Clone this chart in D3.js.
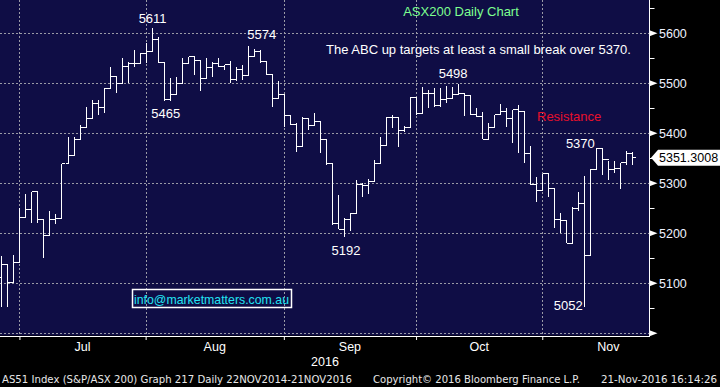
<!DOCTYPE html>
<html>
<head>
<meta charset="utf-8">
<script src="https://cdn.jsdelivr.net/npm/d3@7"></script>
<style>
  body { margin: 0; background: #000; }
  svg { display: block; }
</style>
</head>
<body>
<div id="chart-area"></div>
<script>

// AS51 daily bars, 27 Jun 2016 .. 21 Nov 2016 (one value per trading day)
let open = [5112,5137,5102,5142,5232,5247,5283,5228,5196,5228,5230,5339,5355,5388,5412,5430,5459,5452,5490,5513,
            5499,5533,5539,5540,5560,5563,5588,5541,5467,5477,5499,5539,5553,5545,5509,5532,5540,5533,5537,5507,
            5528,5515,5553,5563,5543,5517,5470,5478,5435,5417,5373,5430,5415,5423,5387,5340,5220,5208,5228,5240,
            5297,5295,5303,5340,5375,5432,5432,5405,5412,5472,5439,5479,5480,5455,5468,5469,5477,5480,5475,5437,
            5433,5388,5412,5437,5443,5430,5447,5443,5360,5297,5285,5319,5290,5228,5225,5180,5250,5259,5156,5328,
            5370,5347,5328,5330,5341,5360];
let high = [5155,5137,5157,5250,5279,5283,5283,5228,5245,5238,5339,5393,5393,5417,5453,5467,5467,5490,5533,5513,
            5550,5543,5567,5561,5580,5611,5592,5541,5510,5512,5550,5553,5553,5545,5550,5543,5550,5537,5545,5533,
            5537,5574,5568,5567,5543,5517,5505,5478,5435,5421,5432,5430,5440,5423,5387,5340,5277,5230,5241,5307,
            5301,5308,5347,5393,5433,5437,5432,5415,5473,5472,5493,5487,5490,5490,5495,5492,5498,5480,5475,5450,
            5443,5420,5437,5459,5450,5447,5457,5443,5375,5313,5319,5319,5290,5240,5225,5252,5283,5315,5328,5370,
            5370,5345,5345,5341,5365,5363];
let low  = [5052,5052,5102,5142,5232,5220,5221,5150,5196,5218,5230,5339,5355,5388,5412,5430,5437,5441,5490,5480,
            5499,5500,5533,5540,5540,5563,5541,5465,5465,5477,5499,5539,5517,5485,5509,5512,5533,5527,5501,5505,
            5507,5515,5553,5540,5517,5453,5470,5413,5417,5363,5373,5407,5415,5360,5337,5217,5208,5192,5205,5240,
            5273,5278,5303,5340,5375,5410,5373,5403,5412,5437,5439,5450,5453,5453,5460,5468,5477,5435,5437,5432,
            5388,5388,5410,5437,5412,5380,5360,5340,5297,5263,5285,5273,5210,5201,5180,5180,5245,5052,5156,5328,
            5317,5307,5321,5288,5336,5337];
let close = [5137,5102,5142,5232,5247,5283,5228,5196,5228,5230,5339,5355,5388,5412,5430,5459,5452,5490,5513,5499,
            5533,5539,5540,5560,5563,5588,5541,5467,5477,5499,5539,5553,5545,5509,5532,5540,5533,5537,5507,5528,
            5515,5553,5563,5543,5517,5470,5478,5435,5417,5373,5430,5415,5423,5387,5340,5220,5208,5228,5240,5297,
            5295,5303,5340,5375,5432,5432,5405,5412,5472,5439,5479,5480,5455,5468,5469,5477,5480,5475,5437,5433,
            5388,5412,5437,5443,5430,5447,5443,5360,5297,5285,5319,5290,5228,5225,5180,5250,5259,5156,5328,5370,
            5347,5328,5330,5341,5360,5351.3008];

let yTicks = [5000, 5100, 5200, 5300, 5400, 5500, 5600];
let yMinor = [5050, 5150, 5250, 5350, 5450, 5550, 5650];
let monthNames = ["Jul", "Aug", "Sep", "Oct", "Nov"];

// turning points marked on the chart
let peakIdx  = [25, 27, 41, 57, 76, 99, 97];
let peakText = ["5611", "5465", "5574", "5192", "5498", "5370", "5052"];

let lastPrice = "5351.3008";
let note = "The ABC up targets at least a small break over 5370.";
let title = "ASX200 Daily Chart";
let email = "info@marketmatters.com.au";

let width = 720, height = 387;
let plotRight = 649.5, plotBottom = 336;

// trading days (weekdays) from 27 Jun to end of Nov
let days = d3.utcDay.range(new Date(Date.UTC(2016, 5, 27)), new Date(Date.UTC(2016, 11, 1)))
    .filter(d => d.getUTCDay() % 6 !== 0);

let x = d3.scaleLinear().domain([0, 105]).range([1.4, 632.4]);
let y = d3.scaleLinear().domain([5000, 5600]).range([333.3, 33.3]);

// last trading day of each month -> grid lines / ticks
let monthEnds = [];
days.forEach(function(d, i) {
    let next = days[i + 1];
    if (!next || next.getUTCMonth() !== d.getUTCMonth()) monthEnds.push(i);
});

let svg = d3.select("#chart-area").append("svg")
    .attr("width", width)
    .attr("height", height)
    .style("font-family", "'Liberation Sans', Arial, sans-serif");

svg.append("rect").attr("width", width).attr("height", height).attr("fill", "#000");
svg.append("rect")
    .attr("x", 0).attr("y", 0)
    .attr("width", plotRight).attr("height", plotBottom - 0.5)
    .attr("fill", "#0f0d45");

// grid
let grid = svg.append("g").attr("stroke", "#9a9aa6").attr("stroke-width", 1).attr("stroke-dasharray", "2,2");
grid.selectAll(".hg").data(yTicks).enter().append("line")
    .attr("x1", 0).attr("x2", plotRight)
    .attr("y1", d => Math.round(y(d)) + 0.5).attr("y2", d => Math.round(y(d)) + 0.5);
grid.selectAll(".vg").data(monthEnds.slice(0, 5)).enter().append("line")
    .attr("x1", d => Math.round(x(d)) + 0.5).attr("x2", d => Math.round(x(d)) + 0.5)
    .attr("y1", 0).attr("y2", plotBottom);

// OHLC bars
let tick = 3;
svg.append("g").selectAll("path")
    .data(close.map((c, i) => i))
    .enter().append("path")
    .attr("fill", "none")
    .attr("stroke", "#fff")
    .attr("stroke-width", 1)
    .attr("shape-rendering", "crispEdges")
    .attr("d", function(i) {
        let px = Math.round(x(i)) + 0.5;
        return "M" + px + "," + y(high[i]) + "V" + y(low[i]) +
               "M" + (px - tick) + "," + y(open[i]) + "H" + px +
               "M" + px + "," + y(close[i]) + "H" + (px + tick);
    });

// bottom axis
let xAxis = d3.axisBottom(x)
    .tickValues(monthEnds.slice(0, 5))
    .tickSize(4)
    .tickFormat("");
let xg = svg.append("g")
    .attr("transform", "translate(0," + plotBottom + ")")
    .call(xAxis);
xg.select(".domain").attr("stroke", "#fff").attr("d", "M0,0.5H" + plotRight);
xg.selectAll(".tick line").attr("stroke", "#fff");

// month labels sit between month ends
let bounds = monthEnds.slice(0, 6);
svg.append("g").selectAll("text")
    .data(monthNames)
    .enter().append("text")
    .attr("x", (d, i) => (x(bounds[i]) + x(bounds[i + 1])) / 2)
    .attr("y", 351)
    .attr("text-anchor", "middle")
    .attr("fill", "#fff")
    .style("font-size", "12.5px")
    .text(d => d);

svg.append("text")
    .attr("x", 325).attr("y", 366)
    .attr("text-anchor", "middle")
    .attr("fill", "#fff")
    .style("font-size", "12.5px")
    .text("2016");

// right axis
svg.append("line")
    .attr("x1", plotRight).attr("x2", plotRight)
    .attr("y1", 0).attr("y2", plotBottom + 1)
    .attr("stroke", "#fff");
let ra = svg.append("g");
ra.selectAll(".arrow").data(yTicks).enter().append("path")
    .attr("fill", "#fff")
    .attr("d", d => {
        let yy = y(d);
        return "M" + plotRight + "," + (yy - 3) + "L" + (plotRight + 8) + "," + yy + "L" + plotRight + "," + (yy + 3) + "Z";
    });
ra.selectAll(".minor").data(yMinor).enter().append("line")
    .attr("x1", plotRight).attr("x2", plotRight + 5)
    .attr("y1", d => Math.round(y(d)) + 0.5).attr("y2", d => Math.round(y(d)) + 0.5)
    .attr("stroke", "#fff");
ra.selectAll("text").data(yTicks.slice(1)).enter().append("text")
    .attr("x", 659)
    .attr("y", d => y(d) + 4.5)
    .attr("fill", "#eef2ff")
    .style("font-size", "12.5px")
    .text(d => d);

// last price flag
let ly = y(close[close.length - 1]);
svg.append("path")
    .attr("fill", "#fff")
    .attr("d", "M651," + ly + "L658," + (ly - 8) + "H720V" + (ly + 8) + "H658Z");
svg.append("text")
    .attr("x", 659).attr("y", ly + 4.5)
    .attr("fill", "#000")
    .style("font-size", "12.5px")
    .text(lastPrice);

// annotations
let peakPlace = {
    "5611": [1, -5], "5465": [2, 17], "5574": [14, -7], "5192": [2, 18],
    "5498": [-5, -6], "5370": [-16, 0], "5052": [-16, 3]
};
svg.append("g").selectAll("text")
    .data(peakText)
    .enter().append("text")
    .attr("x", (d, i) => x(peakIdx[i]) + peakPlace[d][0])
    .attr("y", (d, i) => y(+d) + peakPlace[d][1])
    .attr("text-anchor", "middle")
    .attr("fill", "#fff")
    .style("font-size", "13px")
    .text(d => d);

svg.append("text")
    .attr("x", 461).attr("y", 16)
    .attr("text-anchor", "middle")
    .attr("fill", "#7dff90")
    .style("font-size", "13px")
    .text(title);

svg.append("text")
    .attr("x", 326).attr("y", 54)
    .attr("fill", "#fff")
    .style("font-size", "13px")
    .text(note);

svg.append("text")
    .attr("x", 537).attr("y", 121)
    .attr("fill", "#e8102c")
    .style("font-size", "13px")
    .text("Resistance");

svg.append("rect")
    .attr("x", 132.5).attr("y", 289.5)
    .attr("width", 159).attr("height", 18)
    .attr("fill", "none")
    .attr("stroke", "#fff")
    .attr("stroke-width", 1.5);
svg.append("text")
    .attr("x", 134).attr("y", 304)
    .attr("fill", "#22e4f2")
    .attr("textLength", 155)
    .attr("lengthAdjust", "spacingAndGlyphs")
    .style("font-size", "13px")
    .text(email);

// footer
let foot = svg.append("g")
    .attr("fill", "#e8e8e8")
    .style("font-family", "'DejaVu Sans', Verdana, sans-serif")
    .style("font-size", "10.5px");
foot.append("text").attr("x", 2).attr("y", 383)
    .attr("textLength", 350).attr("lengthAdjust", "spacingAndGlyphs")
    .text("AS51 Index (S&P/ASX 200) Graph 217  Daily 22NOV2014-21NOV2016");
foot.append("text").attr("x", 373).attr("y", 383)
    .attr("textLength", 207).attr("lengthAdjust", "spacingAndGlyphs")
    .text("Copyright\u00a9 2016 Bloomberg Finance L.P.");
foot.append("text").attr("x", 601).attr("y", 383)
    .attr("textLength", 116).attr("lengthAdjust", "spacingAndGlyphs")
    .text("21-Nov-2016 16:14:26");

</script>
</body>
</html>
